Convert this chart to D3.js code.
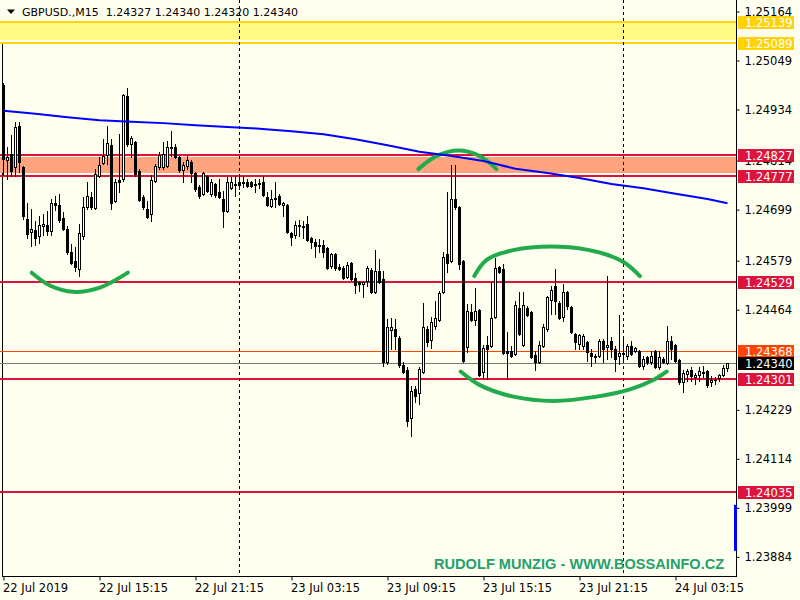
<!DOCTYPE html>
<html><head><meta charset="utf-8">
<script src="https://cdn.jsdelivr.net/npm/d3@7"></script>
<style>
html,body{margin:0;padding:0;background:#FFFFF0;}
svg{display:block;}
</style></head><body>
<svg id="chart" width="800" height="600"></svg>
<script>
// ---------------- DATA ----------------
const symbolTitle = "GBPUSD.,M15";
const titleOHLC = ["1.24327", "1.24340", "1.24320", "1.24340"];

const opens = [1.24991,1.24815,1.24829,1.24799,1.24895,1.24799,1.24677,1.24646,1.24651,1.24637,
1.24660,1.24662,1.24648,1.24714,1.24709,1.24679,1.24653,1.24599,1.24578,1.24559,
1.24637,1.24705,1.24728,1.24702,1.24777,1.24808,1.24827,1.24850,1.24719,1.24768,
1.24770,1.24965,1.24853,1.24857,1.24789,1.24728,1.24700,1.24688,1.24766,1.24799,
1.24799,1.24801,1.24846,1.24846,1.24822,1.24792,1.24801,1.24810,1.24785,1.24752,
1.24735,1.24777,1.24735,1.24759,1.24740,1.24723,1.24695,1.24749,1.24759,1.24763,
1.24763,1.24763,1.24763,1.24759,1.24759,1.24763,1.24728,1.24707,1.24726,1.24731,
1.24709,1.24709,1.24644,1.24639,1.24662,1.24660,1.24665,1.24632,1.24623,1.24613,
1.24616,1.24608,1.24566,1.24594,1.24564,1.24562,1.24540,1.24573,1.24538,1.24529,
1.24524,1.24531,1.24557,1.24505,1.24554,1.24536,1.24341,1.24416,1.24418,1.24397,
1.24334,1.24322,1.24209,1.24278,1.24268,1.24317,1.24418,1.24393,1.24425,1.24439,
1.24505,1.24594,1.24578,1.24723,1.24705,1.24578,1.24376,1.24458,1.24439,1.24463,
1.24317,1.24381,1.24378,1.24447,1.24564,1.24559,1.24367,1.24367,1.24360,1.24468,
1.24381,1.24468,1.24458,1.24357,1.24341,1.24378,1.24418,1.24486,1.24519,1.24479,
1.24447,1.24505,1.24470,1.24407,1.24383,1.24378,1.24388,1.24362,1.24353,1.24355,
1.24390,1.24376,1.24390,1.24371,1.24355,1.24362,1.24355,1.24378,1.24367,1.24367,
1.24331,1.24353,1.24341,1.24367,1.24329,1.24348,1.24339,1.24390,1.24381,1.24346,
1.24294,1.24313,1.24322,1.24306,1.24310,1.24317,1.24320,1.24294,1.24299,1.24303,
1.24310,1.24327];

const highs = [1.24996,1.24846,1.24874,1.24904,1.24904,1.24801,1.24714,1.24700,1.24672,1.24684,
1.24688,1.24695,1.24723,1.24731,1.24735,1.24693,1.24660,1.24618,1.24611,1.24665,
1.24728,1.24763,1.24740,1.24794,1.24822,1.24864,1.24895,1.24864,1.24770,1.24876,
1.24970,1.24984,1.24871,1.24860,1.24794,1.24733,1.24719,1.24780,1.24806,1.24834,
1.24857,1.24860,1.24883,1.24853,1.24824,1.24810,1.24824,1.24815,1.24787,1.24756,
1.24787,1.24780,1.24770,1.24761,1.24770,1.24742,1.24775,1.24775,1.24777,1.24777,
1.24777,1.24770,1.24766,1.24770,1.24770,1.24777,1.24740,1.24745,1.24763,1.24735,
1.24716,1.24712,1.24646,1.24672,1.24674,1.24672,1.24684,1.24634,1.24630,1.24630,
1.24627,1.24611,1.24597,1.24597,1.24571,1.24566,1.24576,1.24576,1.24550,1.24531,
1.24531,1.24566,1.24562,1.24604,1.24583,1.24554,1.24442,1.24444,1.24442,1.24402,
1.24341,1.24329,1.24285,1.24285,1.24329,1.24479,1.24425,1.24447,1.24484,1.24508,
1.24599,1.24740,1.24803,1.24803,1.24707,1.24580,1.24477,1.24477,1.24515,1.24465,
1.24381,1.24402,1.24529,1.24585,1.24566,1.24571,1.24411,1.24378,1.24484,1.24505,
1.24505,1.24472,1.24461,1.24367,1.24390,1.24430,1.24496,1.24519,1.24559,1.24484,
1.24524,1.24508,1.24472,1.24409,1.24407,1.24407,1.24390,1.24371,1.24360,1.24395,
1.24395,1.24543,1.24400,1.24378,1.24452,1.24395,1.24383,1.24390,1.24376,1.24369,
1.24355,1.24355,1.24367,1.24369,1.24367,1.24353,1.24425,1.24402,1.24383,1.24348,
1.24322,1.24324,1.24329,1.24315,1.24329,1.24331,1.24322,1.24308,1.24306,1.24313,
1.24334,1.24340];

const lows = [1.24780,1.24770,1.24777,1.24777,1.24787,1.24677,1.24632,1.24613,1.24615,1.24620,
1.24639,1.24639,1.24639,1.24698,1.24670,1.24651,1.24594,1.24571,1.24554,1.24543,
1.24630,1.24700,1.24700,1.24700,1.24775,1.24806,1.24806,1.24700,1.24716,1.24740,
1.24766,1.24848,1.24822,1.24777,1.24719,1.24700,1.24679,1.24672,1.24763,1.24794,
1.24794,1.24799,1.24824,1.24820,1.24787,1.24763,1.24794,1.24763,1.24742,1.24726,
1.24733,1.24740,1.24731,1.24728,1.24726,1.24658,1.24693,1.24747,1.24731,1.24747,
1.24752,1.24752,1.24752,1.24740,1.24749,1.24731,1.24707,1.24705,1.24705,1.24709,
1.24684,1.24644,1.24616,1.24632,1.24637,1.24632,1.24625,1.24608,1.24587,1.24599,
1.24587,1.24559,1.24562,1.24557,1.24557,1.24536,1.24538,1.24533,1.24503,1.24508,
1.24494,1.24519,1.24503,1.24503,1.24526,1.24331,1.24336,1.24371,1.24371,1.24329,
1.24315,1.24191,1.24167,1.24247,1.24242,1.24315,1.24378,1.24374,1.24418,1.24437,
1.24503,1.24552,1.24576,1.24700,1.24559,1.24341,1.24364,1.24437,1.24428,1.24308,
1.24303,1.24301,1.24376,1.24444,1.24550,1.24360,1.24301,1.24353,1.24357,1.24404,
1.24378,1.24449,1.24350,1.24322,1.24339,1.24376,1.24414,1.24454,1.24454,1.24442,
1.24437,1.24465,1.24409,1.24371,1.24371,1.24371,1.24343,1.24331,1.24341,1.24353,
1.24341,1.24348,1.24353,1.24320,1.24336,1.24341,1.24348,1.24357,1.24364,1.24329,
1.24324,1.24336,1.24336,1.24327,1.24324,1.24339,1.24336,1.24348,1.24341,1.24289,
1.24270,1.24296,1.24296,1.24289,1.24296,1.24306,1.24282,1.24285,1.24289,1.24296,
1.24308,1.24320];

const closes = [1.24817,1.24822,1.24789,1.24893,1.24810,1.24684,1.24641,1.24653,1.24632,1.24662,
1.24665,1.24648,1.24714,1.24709,1.24674,1.24653,1.24599,1.24573,1.24564,1.24644,
1.24705,1.24731,1.24705,1.24782,1.24803,1.24825,1.24855,1.24714,1.24763,1.24763,
1.24968,1.24853,1.24867,1.24782,1.24721,1.24705,1.24681,1.24768,1.24801,1.24827,
1.24829,1.24846,1.24843,1.24822,1.24792,1.24803,1.24815,1.24785,1.24747,1.24731,
1.24785,1.24742,1.24763,1.24733,1.24728,1.24695,1.24763,1.24763,1.24756,1.24756,
1.24761,1.24754,1.24754,1.24756,1.24761,1.24733,1.24709,1.24723,1.24723,1.24712,
1.24714,1.24646,1.24634,1.24662,1.24660,1.24658,1.24627,1.24623,1.24613,1.24616,
1.24599,1.24562,1.24594,1.24562,1.24559,1.24538,1.24569,1.24536,1.24522,1.24524,
1.24529,1.24562,1.24505,1.24554,1.24529,1.24341,1.24423,1.24423,1.24402,1.24334,
1.24317,1.24202,1.24273,1.24261,1.24324,1.24423,1.24388,1.24435,1.24444,1.24503,
1.24587,1.24573,1.24723,1.24705,1.24571,1.24343,1.24461,1.24439,1.24461,1.24310,
1.24374,1.24371,1.24444,1.24562,1.24552,1.24362,1.24362,1.24355,1.24475,1.24407,
1.24475,1.24452,1.24353,1.24341,1.24381,1.24423,1.24494,1.24510,1.24484,1.24444,
1.24505,1.24472,1.24411,1.24388,1.24404,1.24402,1.24364,1.24355,1.24355,1.24390,
1.24371,1.24381,1.24371,1.24348,1.24362,1.24360,1.24378,1.24360,1.24374,1.24331,
1.24348,1.24341,1.24355,1.24329,1.24353,1.24341,1.24390,1.24371,1.24343,1.24294,
1.24315,1.24320,1.24308,1.24310,1.24320,1.24315,1.24287,1.24299,1.24299,1.24310,
1.24327,1.24340];

// moving average, sampled bars
const maBars = [0,8,16,24,32,40,48,56,64,72,80,88,96,104,112,120,128,136,144,152,160,168,176,181];
const maValues = [1.24931,1.24924,1.24916,1.24909,1.24905,1.24902,1.24897,1.24893,1.24889,1.24883,
1.24876,1.24864,1.24850,1.24835,1.24825,1.24813,1.24795,1.24785,1.24773,1.24759,1.24749,1.24736,1.24724,1.24714];

const timeTickBars = [0,24,48,72,96,120,144,168];
const timeTickLabels = ["22 Jul 2019","22 Jul 15:15","22 Jul 21:15","23 Jul 03:15","23 Jul 09:15","23 Jul 15:15","23 Jul 21:15","24 Jul 03:15"];
const daySeparatorBars = [59, 155];

const priceTicks = [1.25164,1.25049,1.24934,1.24814,1.24699,1.24579,1.24464,1.24229,1.24114,1.23999,1.23884];

const levelPrices = [1.25139,1.25089,1.24827,1.24777,1.24529,1.24368,1.24340,1.24301,1.24035];
const levelKinds  = ["gold","gold","red","red","red","orange","bid","red","red"];

const zoneYellow = [1.25136, 1.25097];
const zoneSalmon = [1.24823, 1.24786];

// hand-drawn green arcs: [bar, price]
const arcBottomLeft = [[7.05,1.24551],[11.6,1.24521],[17.4,1.24506],[24.1,1.24516],[31.1,1.24551]];
const arcTop = [[103.7,1.24794],[108.3,1.24825],[113.7,1.24838],[119.1,1.24825],[123.25,1.24794]];
const arcUpper = [[117.7,1.24543],[120.8,1.24581],[127.45,1.24604],[139.1,1.24612],[148.3,1.24600],[155,1.24576],[159.1,1.24543]];
const arcLower = [[114.3,1.24319],[119.1,1.24287],[127.45,1.24260],[137.45,1.24250],[148.3,1.24260],[156.6,1.24277],[162.45,1.24299],[165.8,1.24319]];

const watermark = "RUDOLF MUNZIG - WWW.BOSSAINFO.CZ";
const axisMarkerRange = [1.24006, 1.23898];

// ---------------- RENDER ----------------
const W = 800, H = 600;
const plotRight = 736, plotBottom = 576;
const svg = d3.select("#chart");
const FONT = "DejaVu Sans, Verdana, sans-serif";

const x = d3.scaleLinear().domain([0, opens.length - 1]).range([3.5, 727.5]);
const y = d3.scaleLinear().domain([1.23839, 1.25191]).range([plotBottom, 0]);

svg.append("rect").attr("width", W).attr("height", H).attr("fill", "#FFFFF0");

// frame
svg.append("rect").attr("x", 2).attr("y", 44).attr("width", 1).attr("height", plotBottom - 44).attr("fill", "#000");
svg.append("rect").attr("x", plotRight).attr("y", 0).attr("width", 1).attr("height", plotBottom + 1).attr("fill", "#000");
svg.append("rect").attr("x", 2).attr("y", plotBottom).attr("width", plotRight - 1).attr("height", 1).attr("fill", "#000");

// zones
function zone(z, fill) {
  const y0 = Math.round(y(z[0])), y1 = Math.round(y(z[1]));
  svg.append("rect").attr("x", 0).attr("y", y0).attr("width", plotRight).attr("height", y1 - y0).attr("fill", fill);
}
zone(zoneYellow, "#FFFA84");
zone(zoneSalmon, "#FFA47E");

// level lines
const levelStyle = {
  gold:   {color: "#FFD700", w: 2, box: "#FFD200"},
  red:    {color: "#DC143C", w: 2, box: "#DC143C"},
  orange: {color: "#FF4500", w: 1, box: "#FF4500"},
  bid:    {color: "#777777", w: 1, box: "#000000"}
};
levelPrices.forEach((p, k) => {
  const st = levelStyle[levelKinds[k]];
  const yy = Math.round(y(p));
  svg.append("rect").attr("x", 0).attr("y", st.w === 2 ? yy - 1 : yy).attr("width", plotRight).attr("height", st.w).attr("fill", st.color);
});

// day separators
daySeparatorBars.forEach(b => {
  svg.append("line").attr("x1", x(b)).attr("x2", x(b)).attr("y1", 0).attr("y2", plotBottom)
    .attr("stroke", "#000").attr("stroke-width", 1).attr("stroke-dasharray", "3,3");
});

// candles
const gC = svg.append("g");
opens.forEach((o, i) => {
  const c = closes[i], h = highs[i], l = lows[i];
  const col = Math.round(x(i) - 0.5);
  const yH = Math.round(y(h)), yL = Math.round(y(l));
  const yTop = Math.round(y(Math.max(o, c))), yBot = Math.round(y(Math.min(o, c)));
  gC.append("rect").attr("x", col).attr("y", yH).attr("width", 1).attr("height", Math.max(1, yL - yH + 1)).attr("fill", "#000");
  gC.append("rect").attr("x", col - 1).attr("y", yTop).attr("width", 3).attr("height", yBot - yTop + 1).attr("fill", "#000");
  if (c > o && yBot - yTop - 1 > 0) {
    gC.append("rect").attr("x", col).attr("y", yTop + 1).attr("width", 1).attr("height", yBot - yTop - 1).attr("fill", "#FFFFFF");
  }
});

// green arcs
const arcLine = d3.line().x(d => x(d[0])).y(d => y(d[1])).curve(d3.curveCatmullRom.alpha(0.5));
[arcBottomLeft, arcTop, arcUpper, arcLower].forEach(a => {
  svg.append("path").attr("d", arcLine(a)).attr("fill", "none").attr("stroke", "#22AB4A")
    .attr("stroke-width", 4).attr("stroke-linecap", "round");
});

// moving average
const maLine = d3.line().x(d => x(d[0])).y(d => y(d[1]));
svg.append("path").attr("d", maLine(maBars.map((b, k) => [b, maValues[k]])))
  .attr("fill", "none").attr("stroke", "#0000FF").attr("stroke-width", 2);

// right axis
const yAxis = d3.axisRight(y).tickValues(priceTicks).tickFormat(d3.format(".5f")).tickSize(3).tickPadding(5);
const gy = svg.append("g").attr("transform", `translate(${plotRight + 0.5},0)`).call(yAxis);
gy.select(".domain").remove();
gy.selectAll("text").attr("font-family", FONT).attr("font-size", "11.5px").attr("fill", "#000");
gy.selectAll("line").attr("stroke", "#000");

// bottom axis
const xAxis = d3.axisBottom(x).tickValues(timeTickBars).tickFormat((d, k) => timeTickLabels[k]).tickSize(4);
const gx = svg.append("g").attr("transform", `translate(0,${plotBottom + 0.5})`).call(xAxis);
gx.select(".domain").remove();
gx.selectAll("text").attr("font-family", FONT).attr("font-size", "11.5px").attr("fill", "#000")
  .attr("text-anchor", "start").attr("x", -1).attr("y", 15).attr("dy", 0);
gx.selectAll("line").attr("stroke", "#000");

// level label boxes
levelPrices.forEach((p, k) => {
  const st = levelStyle[levelKinds[k]];
  const yc = Math.round(y(p)) + 0.5;
  svg.append("rect").attr("x", 738).attr("y", yc - 6.5).attr("width", 56).attr("height", 13).attr("fill", st.box);
  svg.append("text").attr("x", 745).attr("y", yc).attr("dy", "0.35em")
    .attr("font-family", FONT).attr("font-size", "11.5px").attr("fill", "#FFFFFF").text(d3.format(".5f")(p));
});

// axis marker
svg.append("rect").attr("x", 734).attr("y", y(axisMarkerRange[0])).attr("width", 3)
  .attr("height", y(axisMarkerRange[1]) - y(axisMarkerRange[0])).attr("fill", "#0000FF");

// title
svg.append("path").attr("d", "M7,9.5 L15,9.5 L11,14 Z").attr("fill", "#000");
svg.append("text").attr("x", 22).attr("y", 16).attr("font-family", FONT).attr("font-size", "11px").attr("fill", "#000")
  .attr("xml:space", "preserve").text(symbolTitle + "  " + titleOHLC.join(" "));

// watermark
svg.append("text").attr("x", 434).attr("y", 569).attr("font-family", "Liberation Sans, Arial, sans-serif")
  .attr("font-weight", "bold").attr("font-size", "14.6px").attr("fill", "#25A06E").text(watermark);
</script>
</body></html>
